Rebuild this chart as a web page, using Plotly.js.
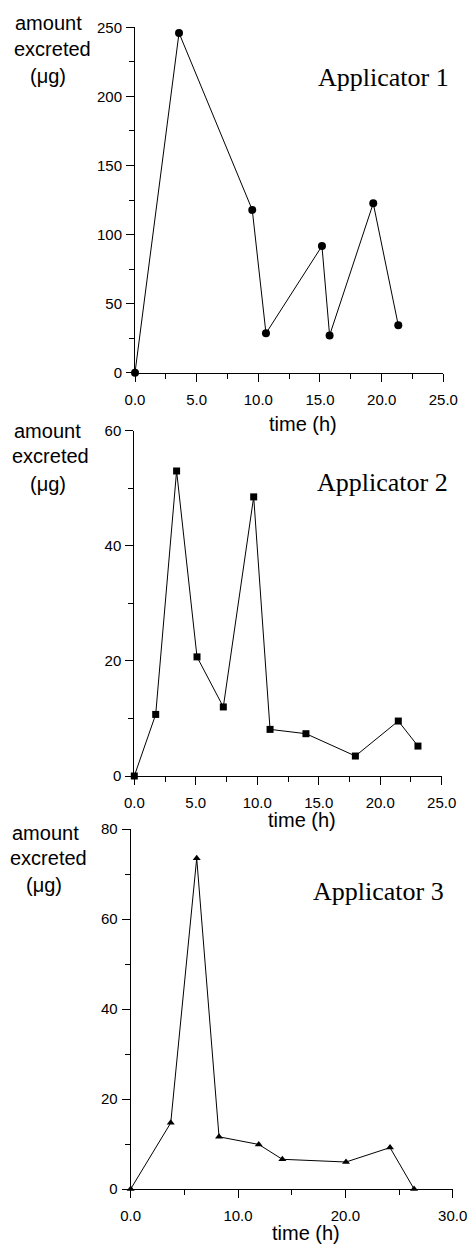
<!DOCTYPE html>
<html><head><meta charset="utf-8">
<script src="https://cdn.plot.ly/plotly-3.0.1.min.js"></script>
<style>html,body{margin:0;padding:0;background:#fff}#c{width:475px;height:1246px}</style>
</head><body><div id="c"></div>
<script>
// Applicator 1
const time1 = [0, 3.57, 9.51, 10.62, 15.16, 15.78, 19.32, 21.35];
const amount1 = [0, 245.9, 117.8, 28.5, 91.7, 27.0, 122.6, 34.3];
// Applicator 2
const time2 = [0, 1.74, 3.44, 5.10, 7.24, 9.71, 11.04, 13.96, 17.98, 21.47, 23.07];
const amount2 = [0, 10.7, 53.0, 20.7, 12.0, 48.5, 8.1, 7.35, 3.47, 9.55, 5.2];
// Applicator 3
const time3 = [0, 3.73, 6.15, 8.23, 11.93, 14.13, 20.06, 24.16, 26.4];
const amount3 = [0, 14.7, 73.5, 11.6, 9.9, 6.6, 6.0, 9.2, 0];

const panelTitles = ["Applicator 1", "Applicator 2", "Applicator 3"];
const yTitleLines = ["amount", "excreted", "(μg)"];
const xTitle = "time (h)";

const W = 475, H = 1246;
const px = v => v / W, py = v => 1 - v / H;
const sans = "Liberation Sans, Arial, sans-serif";
const serif = "Liberation Serif, Times New Roman, serif";

function tr(x, y, sym, size, xa, ya) {
  return {x, y, xaxis: xa, yaxis: ya, type: 'scatter', mode: 'lines+markers',
    line: {color: '#000', width: 1}, marker: {symbol: sym, size, color: '#000'},
    cliponaxis: false, showlegend: false, hoverinfo: 'skip'};
}
const data = [
  tr(time1, amount1, 'circle', 8, 'x', 'y'),
  tr(time2, amount2, 'square', 7, 'x2', 'y2'),
  tr(time3, amount3, 'triangle-up', 7, 'x3', 'y3')
];

function xa(dom, anchor, range, dtick, minor) {
  return {domain: dom, anchor, range, dtick, tick0: 0, tickformat: '.1f',
    showline: true, linecolor: '#000', linewidth: 1, showgrid: false, zeroline: false,
    ticks: 'outside', ticklen: 8, tickcolor: '#000', tickwidth: 1,
    minor: {dtick: minor, tick0: 0, ticks: 'outside', ticklen: 5, tickcolor: '#000', tickwidth: 1, showgrid: false},
    tickfont: {family: sans, size: 15, color: '#000'}, ticklabelstandoff: 5, fixedrange: true};
}
function ya(dom, anchor, range, dtick, minor) {
  return {domain: dom, anchor, range, dtick, tick0: 0,
    showline: true, linecolor: '#000', linewidth: 1, showgrid: false, zeroline: false,
    ticks: 'outside', ticklen: 8, tickcolor: '#000', tickwidth: 1,
    minor: {dtick: minor, tick0: 0, ticks: 'outside', ticklen: 5, tickcolor: '#000', tickwidth: 1, showgrid: false},
    tickfont: {family: sans, size: 15, color: '#000'}, ticklabelstandoff: 1, fixedrange: true};
}

const annotations = [];
function ann(text, x, y, font) {
  annotations.push({text, x: px(x), y: py(y), xref: 'paper', yref: 'paper',
    xanchor: 'center', yanchor: 'middle', showarrow: false, font});
}
const ytFont = {family: sans, size: 20, color: '#000'};
const apFont = {family: serif, size: 26, color: '#000'};
// panel 1
ann(yTitleLines[0], 48, 23, ytFont); ann(yTitleLines[1], 52, 49, ytFont); ann(yTitleLines[2], 48, 76, ytFont);
ann(panelTitles[0], 383, 77, apFont);
ann(xTitle, 303, 424, ytFont);
// panel 2
ann(yTitleLines[0], 47, 431, ytFont); ann(yTitleLines[1], 50, 456, ytFont); ann(yTitleLines[2], 48, 484, ytFont);
ann(panelTitles[1], 382, 482, apFont);
ann(xTitle, 302, 820, ytFont);
// panel 3
ann(yTitleLines[0], 45, 833, ytFont); ann(yTitleLines[1], 48, 858, ytFont); ann(yTitleLines[2], 44, 885, ytFont);
ann(panelTitles[2], 378, 891, apFont);
ann(xTitle, 306, 1233, ytFont);

const layout = {
  width: W, height: H, margin: {l: 0, r: 0, t: 0, b: 0},
  paper_bgcolor: '#fff', plot_bgcolor: '#fff', showlegend: false,
  xaxis: xa([px(135), px(443.3)], 'y', [0, 25], 5, 2.5),
  yaxis: ya([py(372.7), py(27.3)], 'x', [0, 250], 50, 25),
  xaxis2: xa([px(134.3), px(441.7)], 'y2', [0, 25], 5, 2.5),
  yaxis2: ya([py(776), py(430.7)], 'x2', [0, 60], 20, 10),
  xaxis3: xa([px(130.7), px(452.7)], 'y3', [0, 30], 10, 5),
  yaxis3: ya([py(1189), py(829)], 'x3', [0, 80], 20, 10),
  annotations
};
Plotly.newPlot('c', data, layout, {staticPlot: true, displayModeBar: false});
</script></body></html>
